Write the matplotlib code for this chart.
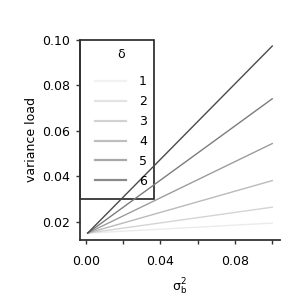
import numpy as np
import matplotlib.pyplot as plt
from matplotlib.patches import Rectangle

# ---- data ----
deltas = [1, 2, 3, 4, 5, 6]
sigma_b2 = [0.001, 0.1]
y_start = [0.015, 0.015, 0.015, 0.015, 0.015, 0.015]
y_end = [0.0194, 0.0264, 0.0381, 0.0544, 0.0741, 0.0973]
colors = ['#ebebeb', '#d4d4d4', '#bababa', '#9c9c9c', '#7c7c7c', '#4a4a4a']

fig = plt.figure(figsize=(3, 3), dpi=100)
ax = fig.add_axes([0.267, 0.201, 0.666, 0.666])

for d, y0, y1, c in zip(deltas, y_start, y_end, colors):
    ax.plot(sigma_b2, [y0, y1], color=c, lw=1.0, label=str(d), zorder=3)

ax.set_xlim(-0.00306, 0.1041)
ax.set_ylim(0.0121, 0.1)
ax.set_xticks([0.0, 0.02, 0.04, 0.06, 0.08, 0.1])
ax.set_xticklabels(['0.00', '', '0.04', '', '0.08', ''])
ax.set_yticks([0.02, 0.04, 0.06, 0.08, 0.10])
ax.set_yticklabels(['0.02', '0.04', '0.06', '0.08', '0.10'])

for s in ['top', 'right']:
    ax.spines[s].set_visible(False)
for s in ['left', 'bottom']:
    ax.spines[s].set_color('#333333')
    ax.spines[s].set_linewidth(1.3)
ax.tick_params(axis='both', labelsize=9, length=3, width=1, color='#333333', pad=4)
ax.tick_params(axis='x', pad=8)

ax.set_xlabel(r'$\mathregular{\sigma_b^2}$', fontsize=9, labelpad=6)
ax.set_ylabel('variance load', fontsize=9, labelpad=3)

# legend box outline
box = Rectangle((-0.00306, 0.0298), 0.0397, 0.1 - 0.0298, fill=False,
                edgecolor='#222222', lw=1.2, zorder=2, clip_on=False)
ax.add_patch(box)

leg = ax.legend(title='δ', loc='upper left', bbox_to_anchor=(0.035, 0.995), borderaxespad=0,
                fontsize=9, title_fontsize=9, frameon=False, handlelength=2.5,
                handletextpad=1.05, labelspacing=0.55, borderpad=0.6)
leg._legend_box.sep = 10
for h in leg.legend_handles:
    h.set_linewidth(1.6)
    h.set_alpha(0.65)

fig.savefig('out.png', dpi=100)
